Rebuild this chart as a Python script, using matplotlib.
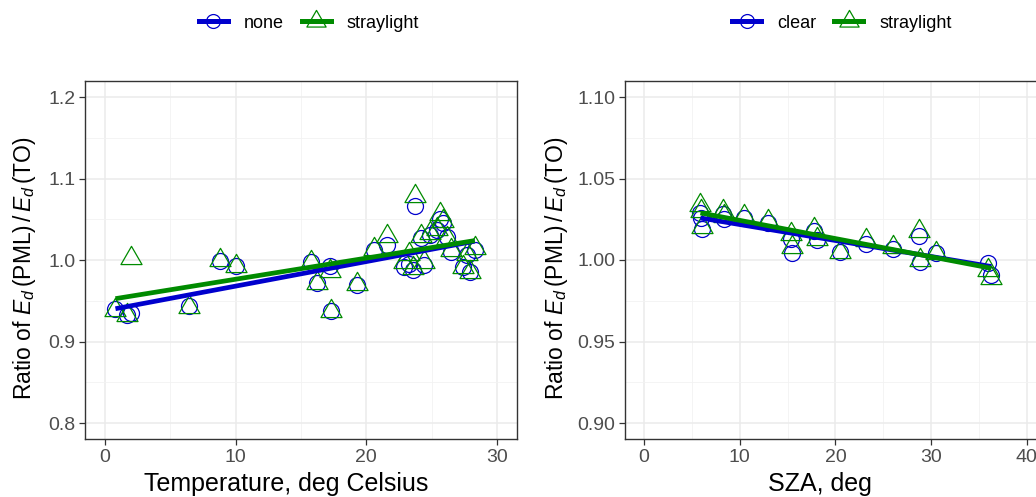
import numpy as np
import matplotlib
matplotlib.use("Agg")
import matplotlib.pyplot as plt
from matplotlib.path import Path
from matplotlib.lines import Line2D

plt.rcParams['font.family'] = ['Liberation Sans', 'DejaVu Sans']
plt.rcParams['mathtext.fontset'] = 'custom'
plt.rcParams['mathtext.rm'] = 'Liberation Sans'
plt.rcParams['mathtext.it'] = 'Liberation Sans:italic'

# temperature panel
temp = [0.8, 1.7, 2.0, 6.4, 8.8, 10.0, 15.8, 16.2, 17.2, 17.3, 19.3, 20.6, 21.6, 22.9, 23.3,
        23.6, 23.7, 24.2, 24.4, 24.9, 25.4, 25.6, 25.9, 26.2, 26.5, 27.4, 27.7, 27.9, 28.3]
temp_none = [0.940, 0.933, 0.935, 0.944, 0.999, 0.993, 0.998, 0.972, 0.993, 0.937, 0.969, 1.012,
             1.018, 0.992, 0.995, 0.988, 1.066, 1.027, 0.994, 1.031, 1.037, 1.050, 1.045, 1.028,
             1.010, 0.992, 1.006, 0.985, 1.012]
temp_stray = [0.939, 0.933, 1.003, 0.942, 1.000, 0.993, 0.998, 0.972, 0.986, 0.938, 0.970, 1.014,
              1.030, 0.997, 1.007, 0.990, 1.078, 1.029, 0.997, 1.033, 1.038, 1.057, 1.048, 1.027,
              1.012, 0.992, 1.007, 0.985, 1.015]

# solar zenith angle panel
sza = [5.9, 6.0, 6.1, 8.3, 8.4, 10.4, 13.0, 15.4, 15.5, 17.8, 18.1, 20.5, 23.2, 26.0, 28.7,
       28.8, 30.5, 35.9, 36.3]
sza_clear = [1.029, 1.026, 1.019, 1.028, 1.025, 1.026, 1.023, 1.013, 1.004, 1.018, 1.012, 1.005,
             1.010, 1.007, 1.015, 0.999, 1.004, 0.998, 0.991]
sza_stray = [1.034, 1.030, 1.020, 1.030, 1.027, 1.027, 1.024, 1.016, 1.008, 1.019, 1.013, 1.005,
             1.012, 1.008, 1.018, 1.000, 1.004, 0.994, 0.989]

BLUE = '#0000CD'
GREEN = '#008B00'

# triangle centred on its centroid, like R's pch = 2
tri = Path([(0, 2), (-1.732, -1), (1.732, -1), (0, 2)],
           [Path.MOVETO, Path.LINETO, Path.LINETO, Path.CLOSEPOLY])

W, H = 1036, 497
fig = plt.figure(figsize=(W / 100, H / 100), dpi=100)


def px_axes(x0, x1, y0, y1):
    return fig.add_axes([x0 / W, 1 - y1 / H, (x1 - x0) / W, (y1 - y0) / H])


def style(ax, xlim, ylim, xmaj, xmin, ymaj, ymin, yfmt):
    ax.set_xlim(*xlim)
    ax.set_ylim(*ylim)
    ax.set_xticks(xmaj)
    ax.set_xticks(xmin, minor=True)
    ax.set_yticks(ymaj)
    ax.set_yticks(ymin, minor=True)
    ax.set_yticklabels([yfmt.format(v) for v in ymaj])
    ax.grid(which='major', color='#EBEBEB', lw=1.1, zorder=0)
    ax.grid(which='minor', color='#F2F2F2', lw=0.6, zorder=0)
    ax.set_axisbelow(True)
    for s in ax.spines.values():
        s.set_color('#333333')
        s.set_linewidth(1.0)
    ax.tick_params(which='major', direction='out', length=4, width=0.9, color='#333333',
                   labelsize=14, labelcolor='#4D4D4D', pad=3)
    ax.tick_params(which='minor', length=0)


def panel(ax, x, y1, y2, lab1, lab2):
    x = np.asarray(x)
    ax.plot(x, y1, ls='none', marker='o', ms=11.5, mfc='none', mec=BLUE, mew=0.9, zorder=3)
    ax.plot(x, y2, ls='none', marker=tri, ms=17.5, mfc='none', mec=GREEN, mew=0.9, zorder=3)
    xs = np.array([x.min(), x.max()])
    for y, c in ((y1, BLUE), (y2, GREEN)):
        k, b = np.polyfit(x, y, 1)
        ax.plot(xs, k * xs + b, color=c, lw=3.4, solid_capstyle='butt', zorder=4)
    handles = [Line2D([], [], color=BLUE, lw=3.6, marker='o', ms=10, mfc='none', mec=BLUE, mew=0.9),
               Line2D([], [], color=GREEN, lw=3.6, marker=tri, ms=16, mfc='none', mec=GREEN, mew=0.9)]
    return handles, [lab1, lab2]


ylab = r'Ratio of $\mathit{E}_d\,$(PML)$\,/\,\mathit{E}_d\,$(TO)'
leg_kw = dict(loc='center', ncol=2, frameon=False, fontsize=13, handlelength=1.6,
              columnspacing=1.0, handletextpad=0.9)

ax1 = px_axes(85.4, 516.6, 80.7, 439.3)
style(ax1, (-1.5, 31.5), (0.78, 1.22), [0, 10, 20, 30], [5, 15, 25],
      [0.8, 0.9, 1.0, 1.1, 1.2], [0.85, 0.95, 1.05, 1.15], '{:.1f}')
h, l = panel(ax1, temp, temp_none, temp_stray, 'none', 'straylight')
ax1.set_xlabel('Temperature, deg Celsius', fontsize=18)
ax1.set_ylabel(ylab, fontsize=16.5)
ax1.xaxis.set_label_coords(0.465, -0.092)
ax1.yaxis.set_label_coords(-0.109, 0.478)
fig.legend(h, l, bbox_to_anchor=(309 / W, 1 - 23 / H), **leg_kw)

ax2 = px_axes(624.8, 1046, 80.7, 439.3)
style(ax2, (-2, 42), (0.89, 1.11), [0, 10, 20, 30, 40], [5, 15, 25, 35],
      [0.90, 0.95, 1.00, 1.05, 1.10], [0.925, 0.975, 1.025, 1.075], '{:.2f}')
h, l = panel(ax2, sza, sza_clear, sza_stray, 'clear', 'straylight')
ax2.set_xlabel('SZA, deg', fontsize=18)
ax2.set_ylabel(ylab, fontsize=16.5)
ax2.xaxis.set_label_coords(0.463, -0.092)
ax2.yaxis.set_label_coords(-0.129, 0.478)
fig.legend(h, l, bbox_to_anchor=(842 / W, 1 - 23 / H), **leg_kw)

fig.savefig('out.png', dpi=100)
